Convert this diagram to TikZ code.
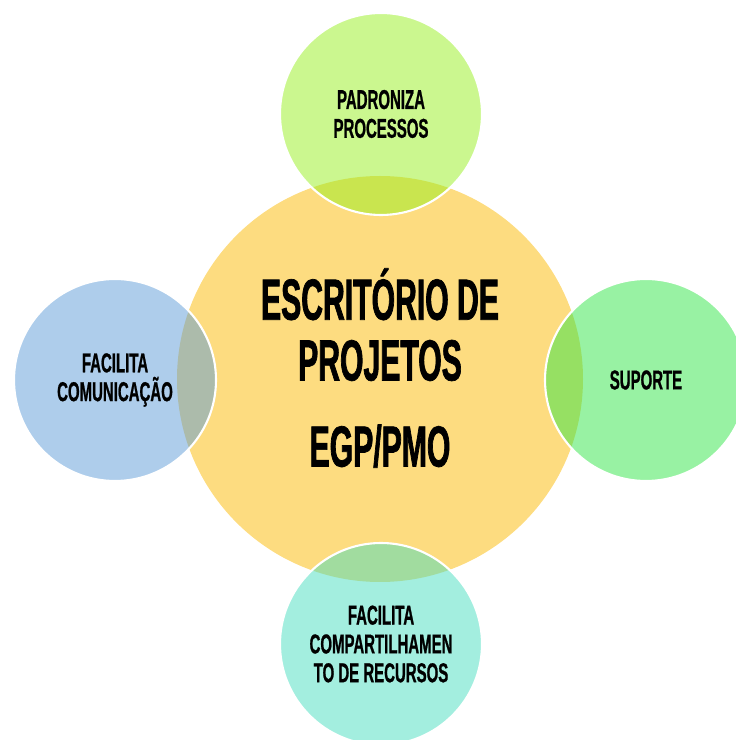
\documentclass[tikz,border=0pt]{standalone}
\usepackage{fontspec}
\newfontfamily\hubfont{Liberation Sans}[FakeStretch=0.52,FakeBold=1.2]
\newfontfamily\bubblefont{Liberation Sans}[FakeStretch=0.55,FakeBold=0.8]
\usetikzlibrary{positioning}

\definecolor{pmoyellow}{RGB}{253,220,128}
\definecolor{topgreen}{RGB}{151,239,31}
\definecolor{sideblue}{RGB}{93,155,215}
\definecolor{rightgreen}{RGB}{49,229,71}
\definecolor{bottomaqua}{RGB}{71,221,191}

\begin{document}
\begin{tikzpicture}[
    hub/.style={circle, fill=pmoyellow, inner sep=0pt,
                minimum size=8.12cm},
    hubtext/.style={align=center, inner sep=0pt,
                    font=\hubfont\bfseries\fontsize{33}{34.6}\selectfont},
    bubble/.style={circle, draw=white, line width=1.2pt, fill=#1,
                   fill opacity=0.5, text opacity=1, inner sep=0pt,
                   minimum size=4.04cm, align=center,
                   font=\bubblefont\bfseries\fontsize{15.5}{16.4}\selectfont}]

  \useasboundingbox (0,0) rectangle (14.72,14.80);

  %% Central office
  \node[hub] (pmo) at (7.60,7.22) {};
  \node[hubtext, yshift=0.22cm] (pmotext) at (pmo)
    {ESCRITÓRIO DE\\PROJETOS\\[14.4pt]EGP/PMO};

  %% Roles around it
  \node[bubble=topgreen]   (padr) at (7.62,12.52) {PADRONIZA\\PROCESSOS};
  \node[bubble=sideblue]   (comu) at (2.30,7.20)  {FACILITA\\COMUNICAÇÃO};
  \node[bubble=rightgreen] (supo) at (12.92,7.20) {SUPORTE};
  \node[bubble=bottomaqua] (recu) at (7.62,1.92)
    {FACILITA\\COMPARTILHAMEN\\TO DE RECURSOS};
\end{tikzpicture}
\end{document}
